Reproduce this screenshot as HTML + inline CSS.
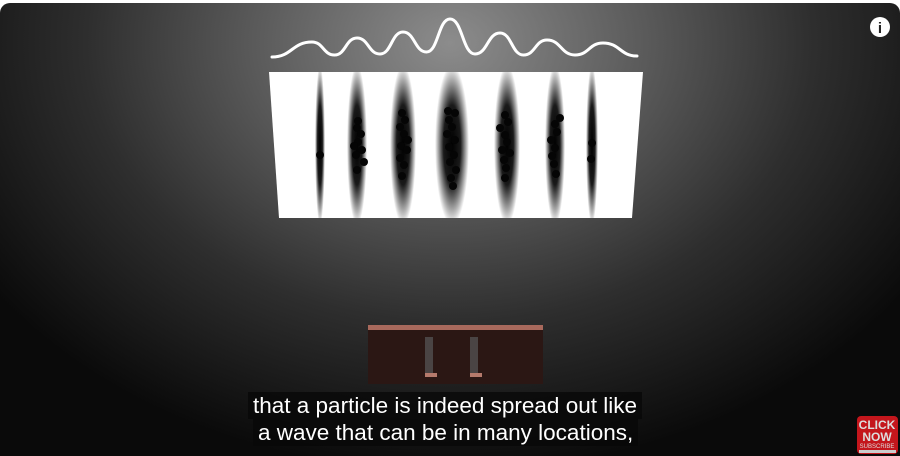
<!DOCTYPE html>
<html><head><meta charset="utf-8"><style>
html,body{margin:0;padding:0;width:900px;height:456px;overflow:hidden;background:#fff}
#frame{position:absolute;left:0;top:3px;width:900px;height:453px;border-radius:10px 10px 0 0;overflow:hidden;
background:radial-gradient(ellipse 560px 430px at 450px 40px,#8c8c8c 0%,#5a5a5a 35%,#2e2e2e 65%,#0a0a0a 100%)}
.sub{position:absolute;color:#fff;font-family:"Liberation Sans",sans-serif;font-size:22.5px;line-height:27px;background:rgba(8,8,8,0.78);padding:0 5px;white-space:nowrap}
</style></head><body>
<div id="frame">
<svg width="900" height="453" viewBox="0 3 900 453" style="position:absolute;left:0;top:0">
<defs>
<radialGradient id="band" cx="0.5" cy="0.5" r="0.5">
<stop offset="0" stop-color="#000" stop-opacity="1"/>
<stop offset="0.5" stop-color="#000" stop-opacity="0.9"/>
<stop offset="1" stop-color="#000" stop-opacity="0"/>
</radialGradient>
<clipPath id="scr"><polygon points="269,72 643,72 632,218 279,218"/></clipPath>
</defs>
<polygon points="269,72 643,72 632,218 279,218" fill="#fff"/>
<g id="bands" clip-path="url(#scr)"></g>
<g id="dots" clip-path="url(#scr)"></g>
<path id="wave" fill="none" stroke="#fff" stroke-width="3" stroke-linecap="round"/>
<g>
<rect x="368" y="325" width="175" height="59" fill="#2b1714"/>
<rect x="368" y="325" width="175" height="5" fill="#a8695c"/>
<rect x="425" y="337" width="8" height="37" fill="#4a4444"/>
<rect x="470" y="337" width="8" height="37" fill="#4a4444"/>
<rect x="425" y="373" width="12" height="4" fill="#b57a6c"/>
<rect x="470" y="373" width="12" height="4" fill="#b57a6c"/>
</g>
<g>
<circle cx="880" cy="27" r="10" fill="#fff"/>
<text x="880" y="33" text-anchor="middle" font-family="Liberation Sans,sans-serif" font-weight="bold" font-size="15" fill="#222">i</text>
</g>
<g>
<rect x="857" y="416" width="41" height="38" rx="4" fill="#c4161c"/>
<text x="877" y="429" text-anchor="middle" font-family="Liberation Sans,sans-serif" font-weight="bold" font-size="12" fill="#ddd">CLICK</text>
<text x="877" y="441" text-anchor="middle" font-family="Liberation Sans,sans-serif" font-weight="bold" font-size="12" fill="#ddd">NOW</text>
<text x="877" y="448" text-anchor="middle" font-family="Liberation Sans,sans-serif" font-size="6" fill="#ddd">SUBSCRIBE</text>
<rect x="859" y="450" width="37" height="3" fill="#ccc"/>
</g>
</svg>
<div class="sub" style="left:248px;top:389px">that a particle is indeed spread out like</div>
<div class="sub" style="left:253px;top:416px">a wave that can be in many locations,</div>
</div>
<script>
// band (fringe) centers and widths
const bandX=[320,357,403,452,507,555,592];
const bandW=[5,10,13,17,13,10,6];
// wave peaks: x and peak y
const peakX=[312,357,403,450,500,547,603];
const peakY=[42,38,32,19,33,40,43];
const troughY=[55,55,54,52,54,55,55,55];
// particle hits [x,y]
const dots=[[320,155],[358,121],[357,128],[361,134],[358,142],[354,146],[362,150],[356,155],[364,162],[357,170],
[402,113],[405,120],[400,127],[404,134],[408,140],[401,146],[407,150],[400,158],[404,165],[402,176],
[448,111],[455,113],[449,120],[452,127],[447,134],[455,140],[449,147],[454,155],[450,162],[456,170],[451,178],[453,186],
[505,115],[508,122],[500,128],[505,135],[507,142],[502,150],[510,153],[504,160],[506,168],[505,178],
[560,118],[555,124],[557,132],[551,140],[555,148],[552,156],[554,164],[556,174],
[592,143],[591,159]];
const ns='http://www.w3.org/2000/svg';
const bg=document.getElementById('bands');
bandX.forEach((x,i)=>{const e=document.createElementNS(ns,'ellipse');
e.setAttribute('cx',x);e.setAttribute('cy',145);e.setAttribute('rx',bandW[i]);e.setAttribute('ry',80);e.setAttribute('fill','url(#band)');


bg.appendChild(e);});
const dg=document.getElementById('dots');
dots.forEach(d=>{const c=document.createElementNS(ns,'circle');
c.setAttribute('cx',d[0]);c.setAttribute('cy',d[1]);c.setAttribute('r',4);c.setAttribute('fill','#050505');


dg.appendChild(c);});
// wave path
let pts=[[272,57]];
for(let i=0;i<peakX.length;i++){
  const tx=i===0?290:(peakX[i-1]+peakX[i])/2;
  if(i>0)pts.push([tx,troughY[i]]);
  pts.push([peakX[i],peakY[i]]);
}
pts.push([637,56]);
let d='M'+pts[0][0]+','+pts[0][1];
for(let i=1;i<pts.length;i++){const p=pts[i-1],q=pts[i];const mx=(p[0]+q[0])/2;
d+=` C${mx},${p[1]} ${mx},${q[1]} ${q[0]},${q[1]}`;}
document.getElementById('wave').setAttribute('d',d);
</script>
</body></html>
